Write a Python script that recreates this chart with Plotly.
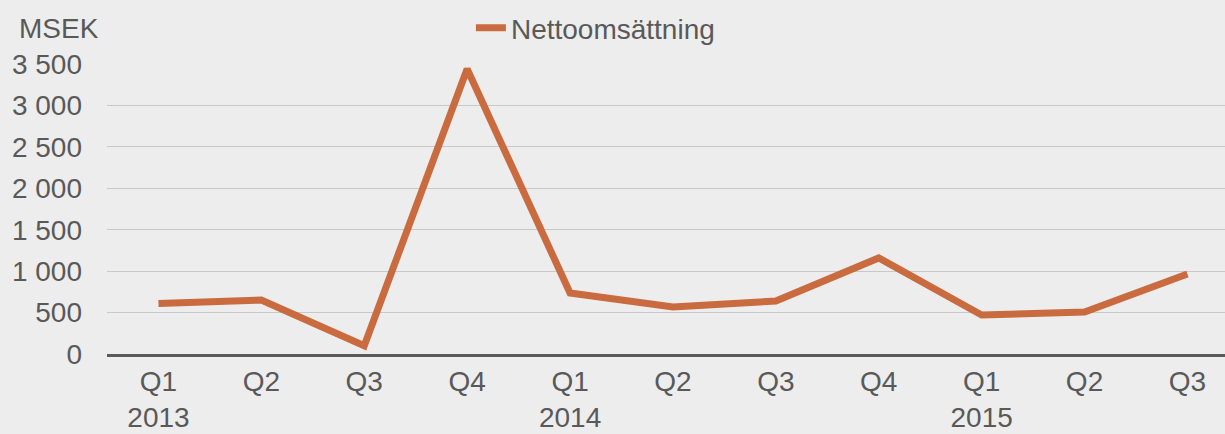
import plotly.graph_objects as go

quarters = ['Q1', 'Q2', 'Q3', 'Q4', 'Q1', 'Q2', 'Q3', 'Q4', 'Q1', 'Q2', 'Q3']
years = ['2013', '', '', '', '2014', '', '', '', '2015', '', '']
nettoomsattning = [610, 652, 100, 3440, 736, 567, 640, 1159, 471, 507, 966]

periods = ['Q%s %d' % (q[1], i) for i, q in enumerate(quarters)]
ticktext = [q + ('<br>' + y if y else '') for q, y in zip(quarters, years)]

grey_text = '#595959'
bg = '#ededed'

fig = go.Figure()
fig.add_trace(go.Scatter(
    x=periods, y=nettoomsattning, mode='lines', name='Nettoomsättning',
    line=dict(color='#c96b3f', width=7), cliponaxis=False,
))

fig.update_layout(
    width=1225, height=434,
    margin=dict(l=107, r=0, t=64, b=80),
    paper_bgcolor=bg, plot_bgcolor=bg,
    font=dict(family='Liberation Sans, Arial, sans-serif', size=28, color=grey_text),
    showlegend=True,
    legend=dict(orientation='h', x=0.3255, xanchor='left', y=1.124, yanchor='middle',
                bgcolor='rgba(0,0,0,0)', font=dict(size=28, color=grey_text)),
    annotations=[dict(text='MSEK', xref='paper', yref='paper', x=-0.043, y=1.124,
                      xanchor='center', yanchor='middle', showarrow=False,
                      font=dict(size=28, color=grey_text))],
)
fig.update_xaxes(
    type='category', range=[-0.5, 10.365],
    tickvals=periods, ticktext=ticktext,
    showgrid=False, showline=True, linecolor=grey_text, linewidth=3,
    ticks='', zeroline=False,
)
fig.update_yaxes(
    range=[0, 3500], tickvals=[0, 500, 1000, 1500, 2000, 2500, 3000, 3500],
    ticktext=['0', '500', '1 000', '1 500', '2 000', '2 500', '3 000', '3 500'],
    showgrid=True, gridcolor='#c8c8c8', gridwidth=1,
    zeroline=False, showline=False, ticklabelstandoff=24,
)

fig.write_html("out.html", config={'displayModeBar': False},
               post_script="document.body.style.margin='0';")
